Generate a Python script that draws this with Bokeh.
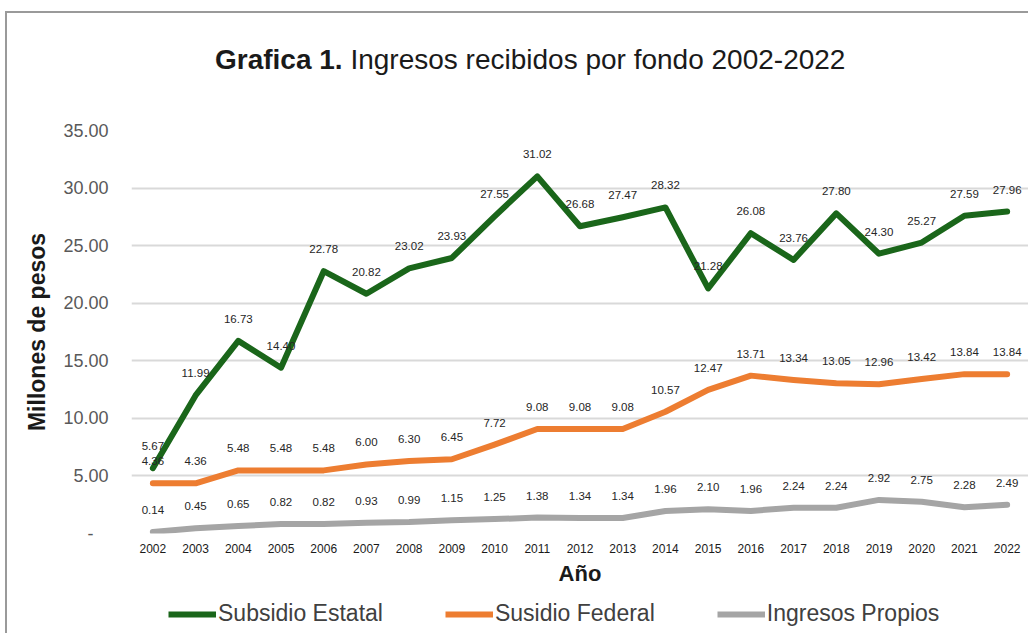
from bokeh.plotting import figure
from bokeh.models import (ColumnDataSource, Legend, LegendItem, Div,
                          CustomJSTickFormatter, FixedTicker)
from bokeh.layouts import column
from bokeh.core.properties import value
from bokeh.embed import file_html
from bokeh.resources import INLINE

years = ["2002", "2003", "2004", "2005", "2006", "2007", "2008", "2009", "2010", "2011", "2012",
         "2013", "2014", "2015", "2016", "2017", "2018", "2019", "2020", "2021", "2022"]
subsidio_estatal = [5.67, 11.99, 16.73, 14.40, 22.78, 20.82, 23.02, 23.93, 27.55, 31.02, 26.68,
                    27.47, 28.32, 21.28, 26.08, 23.76, 27.80, 24.30, 25.27, 27.59, 27.96]
subsidio_federal = [4.36, 4.36, 5.48, 5.48, 5.48, 6.00, 6.30, 6.45, 7.72, 9.08, 9.08,
                    9.08, 10.57, 12.47, 13.71, 13.34, 13.05, 12.96, 13.42, 13.84, 13.84]
ingresos_propios = [0.14, 0.45, 0.65, 0.82, 0.82, 0.93, 0.99, 1.15, 1.25, 1.38, 1.34,
                    1.34, 1.96, 2.10, 1.96, 2.24, 2.24, 2.92, 2.75, 2.28, 2.49]
series_names = ["Subsidio Estatal", "Susidio Federal", "Ingresos Propios"]
y_ticks = [0, 5, 10, 15, 20, 25, 30, 35]
title_bold = "Grafica 1."
title_rest = "Ingresos recibidos por fondo 2002-2022"

colors = ["#1a661a", "#ed7d31", "#a5a5a5"]
FONT = "Liberation Sans"

title = Div(text=(f'<div style="padding:32px 0 0 208px;font-family:\'{FONT}\';font-size:28px;'
                  f'line-height:30px;color:#1a1a1a;white-space:nowrap">'
                  f'<b>{title_bold}</b> {title_rest}</div>'),
            width=1021, height=70, margin=0)

p = figure(x_range=years, y_range=(0, 35), width=1021, height=510,
           output_backend="svg", toolbar_location=None, margin=0,
           min_border_left=124, min_border_right=0, min_border_top=47, min_border_bottom=60)
p.outline_line_color = None
p.background_fill_color = "white"

# axes
p.yaxis.ticker = FixedTicker(ticks=y_ticks)
p.yaxis.formatter = CustomJSTickFormatter(code="return tick == 0 ? '-\u00a0\u00a0\u00a0' : tick.toFixed(2);")
p.yaxis.axis_line_color = None
p.yaxis.major_tick_line_color = None
p.yaxis.minor_tick_line_color = None
p.yaxis.major_tick_out = 0
p.yaxis.major_tick_in = 0
p.yaxis.major_label_standoff = 23
p.yaxis.major_label_text_font = FONT
p.yaxis.major_label_text_font_size = "18px"
p.yaxis.major_label_text_color = "#595959"
p.yaxis.axis_label = "Millones de pesos"
p.yaxis.axis_label_text_font = FONT
p.yaxis.axis_label_text_font_style = "bold"
p.yaxis.axis_label_text_font_size = "23px"
p.yaxis.axis_label_text_color = "#1a1a1a"
p.yaxis.axis_label_standoff = 10

p.xaxis.axis_line_color = None
p.xaxis.major_tick_line_color = None
p.xaxis.minor_tick_line_color = None
p.xaxis.major_tick_out = 0
p.xaxis.major_tick_in = 0
p.xaxis.major_label_standoff = 10
p.xaxis.major_label_text_font = FONT
p.xaxis.major_label_text_font_size = "12px"
p.xaxis.major_label_text_color = "#1a1a1a"
p.xaxis.axis_label = "Año"
p.xaxis.axis_label_text_font = FONT
p.xaxis.axis_label_text_font_style = "bold"
p.xaxis.axis_label_text_font_size = "22px"
p.xaxis.axis_label_text_color = "#1a1a1a"
p.xaxis.axis_label_standoff = 5

p.xgrid.grid_line_color = None
p.ygrid.grid_line_color = "#d9d9d9"
p.ygrid.grid_line_width = 2

# legend strip: a small figure whose view lies away from the data, holding only the legend
pl = figure(x_range=years, y_range=(-20, -10), width=1021, height=40,
            output_backend="svg", toolbar_location=None, margin=0,
            min_border=0, outline_line_color=None)
pl.axis.visible = False
pl.grid.visible = False

items = []
for name, vals, col in zip(series_names, [subsidio_estatal, subsidio_federal, ingresos_propios], colors):
    src = ColumnDataSource(dict(x=years, y=vals, t=[f"{v:.2f}" for v in vals]))
    p.line("x", "y", source=src, line_color=col, line_width=6,
           line_join="round", line_cap="round")
    p.text("x", "y", text="t", source=src, text_align="center", text_baseline="middle",
           y_offset=-22, text_font=value(FONT), text_font_size="11.5px", text_color="#262626")
    lr = pl.line("x", "y", source=src, line_color=col, line_width=6)
    items.append(LegendItem(label=name, renderers=[lr]))

legend = Legend(items=items, orientation="horizontal", location=(37, 6),
                glyph_width=48, label_standoff=2, spacing=62,
                label_text_font=FONT, label_text_font_size="23px", label_text_color="#404040",
                border_line_color=None, background_fill_alpha=0, padding=2, margin=0)
pl.add_layout(legend)

layout = column(title, p, pl, margin=0, spacing=0,
                styles={"border-top": "2px solid #9a9a9a", "border-left": "2px solid #9a9a9a",
                        "margin-left": "5px", "margin-top": "11px"})

open("out.html", "w").write(file_html(layout, INLINE))
